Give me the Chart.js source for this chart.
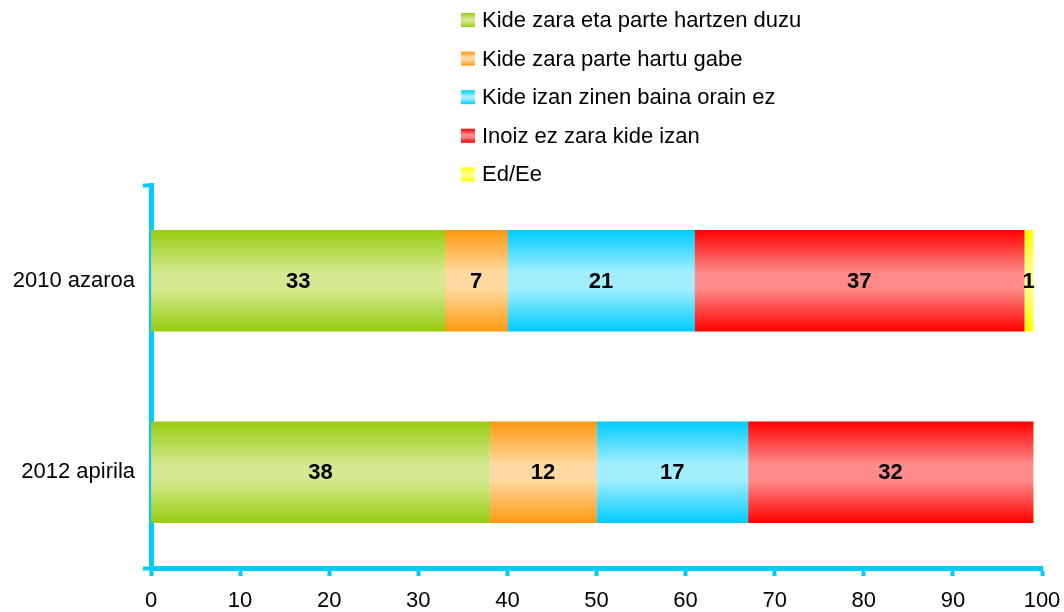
<!DOCTYPE html>
<html>
<head>
<meta charset="utf-8">
<script src="https://cdn.jsdelivr.net/npm/chart.js@4/dist/chart.umd.min.js"></script>
<style>
  html, body { margin: 0; padding: 0; background: #fff; }
  #wrap { width: 1064px; height: 612px; }
</style>
</head>
<body>
<div id="wrap"><canvas id="chart" width="1064" height="612"></canvas></div>
<script>
// data
const categories = ['2010 azaroa', '2012 apirila'];
const seriesNames = [
  'Kide zara eta parte hartzen duzu',
  'Kide zara parte hartu gabe',
  'Kide izan zinen baina orain ez',
  'Inoiz ez zara kide izan',
  'Ed/Ee'
];
const participates = [33, 38];
const memberNoPart = [7, 12];
const formerMember = [21, 17];
const neverMember = [37, 32];
const dontKnow = [1, 0];
const xTicks = [0, 10, 20, 30, 40, 50, 60, 70, 80, 90, 100];

// edge colour / light middle colour for each series
const edgeColors = ['#99cc11', '#ff9911', '#00ccff', '#ff0000', '#ffff00'];
const midColors = ['#d4e98f', '#ffd9a0', '#a2eeff', '#ff8a8a', '#ffff8c'];

const AXIS = '#00ccff';
const FONT = '"Liberation Sans", Arial, sans-serif';
const FSIZE = 22;

function vGrad(ctx, top, bottom, i) {
  const g = ctx.createLinearGradient(0, top, 0, bottom);
  g.addColorStop(0, edgeColors[i]);
  g.addColorStop(0.42, midColors[i]);
  g.addColorStop(0.58, midColors[i]);
  g.addColorStop(1, edgeColors[i]);
  return g;
}

const BAR = 101;

function barFill(i) {
  return (context) => {
    const chart = context.chart;
    const y = chart.scales.y;
    if (!chart.chartArea || !y || context.dataIndex === undefined) return edgeColors[i];
    const c = y.getPixelForValue(context.dataIndex);
    return vGrad(chart.ctx, c - BAR / 2, c + BAR / 2, i);
  };
}

// legend as a vertical list above the plot
const legendList = {
  id: 'legendList',
  afterDraw(chart) {
    const ctx = chart.ctx;
    ctx.save();
    ctx.font = FSIZE + 'px ' + FONT;
    ctx.textBaseline = 'middle';
    seriesNames.forEach((name, i) => {
      const cy = 20 + i * 38.6;
      ctx.fillStyle = vGrad(ctx, cy - 7, cy + 7, i);
      ctx.fillRect(461, cy - 7, 14, 14);
      ctx.fillStyle = '#000';
      ctx.fillText(name, 482, cy + 1);
    });
    ctx.restore();
  }
};

// value labels in the middle of each segment
const valueLabels = {
  id: 'valueLabels',
  afterDatasetsDraw(chart) {
    const ctx = chart.ctx;
    ctx.save();
    ctx.font = 'bold ' + FSIZE + 'px ' + FONT;
    ctx.fillStyle = '#000';
    ctx.textAlign = 'center';
    ctx.textBaseline = 'middle';
    chart.data.datasets.forEach((ds, di) => {
      chart.getDatasetMeta(di).data.forEach((el, i) => {
        const v = ds.data[i];
        if (!v) return;
        const p = el.getCenterPoint();
        ctx.fillText(String(v), p.x, p.y + 1);
      });
    });
    ctx.restore();
  }
};

const seriesData = [participates, memberNoPart, formerMember, neverMember, dontKnow];

new Chart('chart', {
  type: 'bar',
  data: {
    labels: categories,
    datasets: seriesNames.map((name, i) => ({
      label: name,
      data: seriesData[i],
      backgroundColor: barFill(i),
      borderWidth: 0,
      barThickness: BAR
    }))
  },
  options: {
    indexAxis: 'y',
    responsive: false,
    animation: false,
    layout: { padding: { top: 185, right: 22, left: 0, bottom: 0 } },
    plugins: {
      legend: { display: false },
      tooltip: { enabled: false }
    },
    scales: {
      x: {
        stacked: true,
        min: 0,
        max: 100,
        afterBuildTicks: (scale) => { scale.ticks = xTicks.map(v => ({ value: v })); },
        ticks: { color: '#000', font: { family: FONT, size: FSIZE }, padding: 12, maxRotation: 0 },
        grid: { drawOnChartArea: false, tickLength: 8, tickColor: AXIS, tickWidth: 4 },
        border: { color: AXIS, width: 5 },
        afterFit: (scale) => {
          scale.height = 44;
          // keep the plot right edge where the reference has it
          scale.paddingLeft = 0;
          scale.paddingRight = 0;
        }
      },
      y: {
        stacked: true,
        ticks: { color: '#000', font: { family: FONT, size: FSIZE }, padding: 8 },
        grid: {
          drawOnChartArea: false,
          offset: true,
          tickLength: 8,
          tickWidth: 4,
          tickColor: (c) => c.index === 1 ? 'rgba(0,0,0,0)' : AXIS
        },
        border: { color: AXIS, width: 5 },
        afterFit: (scale) => { scale.width = 151; }
      }
    }
  },
  plugins: [legendList, valueLabels]
});
</script>
</body>
</html>
